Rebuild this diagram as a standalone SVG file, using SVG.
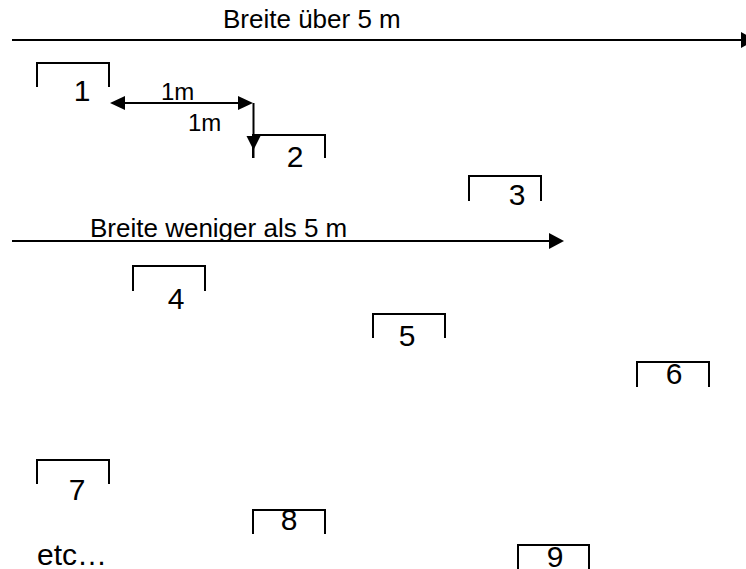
<svg xmlns="http://www.w3.org/2000/svg" width="746" height="569" viewBox="0 0 746 569">
<style>
.br{fill:none;stroke:#000;stroke-width:2}
.num{font-family:"Liberation Sans",Arial,sans-serif;font-size:30px;fill:#000;text-anchor:middle}
.lbl{font-family:"Liberation Sans",Arial,sans-serif;font-size:26px;fill:#000}
.sm{font-family:"Liberation Sans",Arial,sans-serif;font-size:24px;fill:#000}
.ln{stroke:#000;stroke-width:2;fill:none}
.ah{fill:#000}
</style>
<rect width="746" height="569" fill="#fff"/>
<g id="connectors">
<line class="ln" x1="12" y1="40" x2="742" y2="40"/>
<polygon class="ah" points="741,32 741,48 756,40"/>
<text class="lbl" x="223" y="28">Breite über 5 m</text>
<line class="ln" x1="12" y1="241" x2="550" y2="241"/>
<polygon class="ah" points="549,233 549,249 564,241"/>
<text class="lbl" x="90" y="237">Breite weniger als 5 m</text>
<line class="ln" x1="122" y1="103" x2="240" y2="103"/>
<polygon class="ah" points="110,103 125,96 125,110"/>
<polygon class="ah" points="253,103 238,96 238,110"/>
<text class="sm" x="161" y="100">1m</text>
<line class="ln" x1="253.5" y1="103" x2="253.5" y2="158"/>
<polygon class="ah" points="246.5,136 260.5,136 253.5,150"/>
<text class="sm" x="188" y="131">1m</text>
</g>
<g id="n1"><path class="br" d="M37,87V63H109V87"/><text class="num" x="82" y="101">1</text></g>
<g id="n2"><path class="br" d="M253,158V135H325V158"/><text class="num" x="295" y="167">2</text></g>
<g id="n3"><path class="br" d="M469,201V176H541V201"/><text class="num" x="517" y="205">3</text></g>
<g id="n4"><path class="br" d="M133,291V266H205V291"/><text class="num" x="176" y="309">4</text></g>
<g id="n5"><path class="br" d="M373,338V314H445V338"/><text class="num" x="407" y="346">5</text></g>
<g id="n6"><path class="br" d="M637,387V362H709V387"/><text class="num" x="674" y="384">6</text></g>
<g id="n7"><path class="br" d="M37,484V460H109V484"/><text class="num" x="77" y="500">7</text></g>
<g id="n8"><path class="br" d="M253,534V510H325V534"/><text class="num" x="289" y="530">8</text></g>
<g id="n9"><path class="br" d="M518,569V545H589V569"/><text class="num" x="555" y="567">9</text></g>
<text class="num" x="37" y="565" style="text-anchor:start">etc…</text>
</svg>
